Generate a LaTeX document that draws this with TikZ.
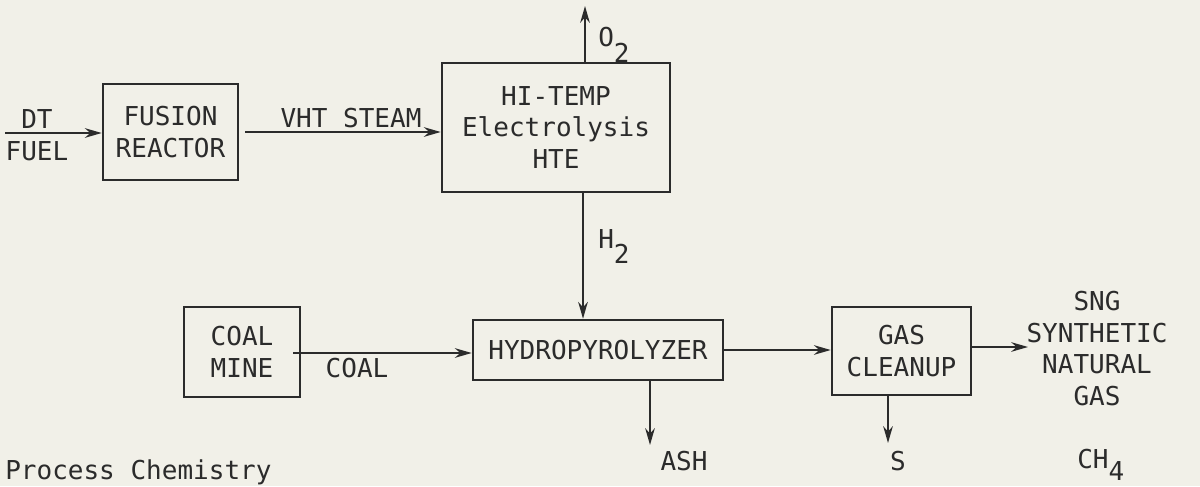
\documentclass[tikz,border=0pt]{standalone}
\usepackage{fontspec}
\setmonofont{DejaVu Sans Mono}
\usetikzlibrary{arrows.meta}
\definecolor{paper}{HTML}{F1F0E8}
\definecolor{ink}{HTML}{2B2B2B}
\begin{document}
\begin{tikzpicture}[x=0.025cm,y=-0.025cm,
  every node/.style={font=\fontsize{18.5}{22.7}\selectfont\ttfamily, text=ink},
  box/.style={draw=ink, line width=1.8pt, inner sep=0pt, align=center},
  arr/.style={draw=ink, line width=1.4pt, -{Stealth[length=4.2mm,width=2.4mm]}},
  lbl/.style={inner sep=0pt, align=center}]
\fill[paper] (0,0) rectangle (1200,486);
\useasboundingbox (0,0) rectangle (1200,486);
\clip (0,0) rectangle (1200,486);

% boxes
\node[box, minimum width=3.375cm, minimum height=2.4cm] (fusion) at (170.5,132) {FUSION\\REACTOR};
\node[box, minimum width=5.7cm, minimum height=3.225cm] (hte) at (556,127.5) {HI-TEMP\\Electrolysis\\HTE};
\node[box, minimum width=2.9cm, minimum height=2.25cm] (mine) at (242,352) {COAL\\MINE};
\node[box, minimum width=6.25cm, minimum height=1.5cm] (hydro) at (598,350) {HYDROPYROLYZER};
\node[box, minimum width=3.475cm, minimum height=2.2cm] (clean) at (901.5,351) {GAS\\CLEANUP};

% free ends
\coordinate (fuelin) at (5,133);
\coordinate (vs) at (245,132);
\coordinate (o2) at (585,6);
\coordinate (h2) at (583,0);
\coordinate (cs) at (293,353);
\coordinate (sng) at (1028,347);
\coordinate (ash) at (650,445);
\coordinate (s) at (888,443);

% connectors
\draw[arr] (fuelin) -- (fuelin -| fusion.west);
\draw[arr] (vs) -- (vs -| hte.west);
\draw[arr] (hte.north -| o2) -- (o2);
\draw[arr] (hte.south -| h2) -- (hydro.north -| h2);
\draw[arr] (cs) -- (cs -| hydro.west);
\draw[arr] (hydro.east) -- (hydro.east -| clean.west);
\draw[arr] (clean.east |- sng) -- (sng);
\draw[arr] (hydro.south -| ash) -- (ash);
\draw[arr] (clean.south -| s) -- (s);

% labels
\node[lbl] (dt) at (37,119) {DT};
\node[lbl] (fuel) at (37,151) {FUEL};
\node[lbl] (vht) at (351,118) {VHT STEAM};
\node[lbl, anchor=base west] (o2l) at (598,47) {O\raisebox{-0.58em}{2}};
\node[lbl, anchor=base west] (h2l) at (598,248) {H\raisebox{-0.58em}{2}};
\node[lbl] (coal) at (357,368) {COAL};
\node[lbl] (sngl) at (1097,348.5) {SNG\\SYNTHETIC\\NATURAL\\GAS};
\node[lbl] (ashl) at (684,461) {ASH};
\node[lbl] (sl) at (898,461) {S};
\node[lbl, anchor=base west] (ch4) at (1077,468) {CH\raisebox{-0.48em}{4}};
\node[lbl, anchor=base west] (pc) at (5,479) {Process Chemistry};
\end{tikzpicture}
\end{document}
